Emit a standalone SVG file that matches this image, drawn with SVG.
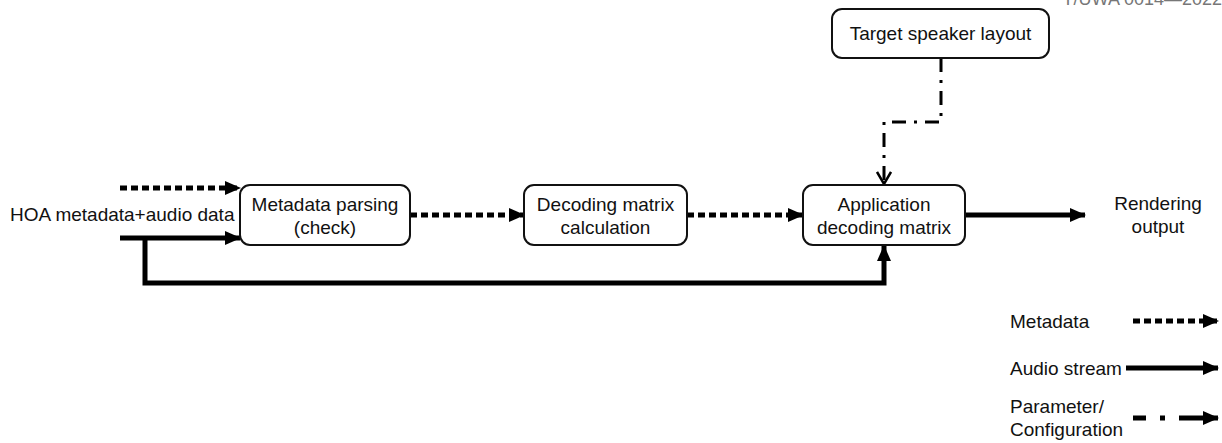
<svg xmlns="http://www.w3.org/2000/svg" width="1222" height="443" viewBox="0 0 1222 443">
<style>
text{font-family:"Liberation Sans",Arial,sans-serif;font-size:19px;fill:#111}
.box{fill:#fff;stroke:#111;stroke-width:2}
.dot{fill:none;stroke:#000;stroke-width:5;stroke-dasharray:7 4}
.sol{fill:none;stroke:#000;stroke-width:5}
.dd{fill:none;stroke:#000;stroke-width:3;stroke-dasharray:14 8 3 8}
.ddl{fill:none;stroke:#000;stroke-width:5;stroke-dasharray:13 14 5 14 80}
</style>
<defs>
<marker id="ah" markerUnits="userSpaceOnUse" markerWidth="16" markerHeight="16" refX="15" refY="8" orient="auto"><path d="M0,1 L16,8 L0,15 Z" fill="#000"/></marker>
<marker id="av" markerUnits="userSpaceOnUse" markerWidth="16" markerHeight="16" refX="14" refY="8" orient="auto"><path d="M2,1 L14,8 L2,15" fill="none" stroke="#000" stroke-width="2.5"/></marker>
</defs>
<text x="1222" y="5" text-anchor="end" style="fill:#777;font-size:18px">T/UWA 0014—2022</text>
<g id="connectors">
<path class="dot" d="M120,188 H240" marker-end="url(#ah)"/>
<path class="sol" d="M120,238 H240" marker-end="url(#ah)"/>
<path class="sol" d="M145,238 V283 H884 V246" marker-end="url(#ah)"/>
<path class="dot" d="M410,215 H524" marker-end="url(#ah)"/>
<path class="dot" d="M687,215 H803" marker-end="url(#ah)"/>
<path class="sol" d="M965,215 H1085" marker-end="url(#ah)"/>
<path class="dd" d="M941,58 V122 H884 V184" marker-end="url(#av)"/>
</g>
<g id="input-label"><text x="10" y="221">HOA metadata+audio data</text></g>
<g id="metadata-parsing">
<rect class="box" x="240" y="185" width="170" height="60" rx="10"/>
<text x="325" y="211" text-anchor="middle">Metadata parsing</text>
<text x="325" y="234" text-anchor="middle">(check)</text>
</g>
<g id="decoding-matrix-calculation">
<rect class="box" x="524" y="185" width="163" height="60" rx="10"/>
<text x="605.5" y="211" text-anchor="middle">Decoding matrix</text>
<text x="605.5" y="234" text-anchor="middle">calculation</text>
</g>
<g id="application-decoding-matrix">
<rect class="box" x="803" y="185" width="162" height="60" rx="10"/>
<text x="884" y="211" text-anchor="middle">Application</text>
<text x="884" y="234" text-anchor="middle">decoding matrix</text>
</g>
<g id="target-speaker-layout">
<rect class="box" x="832" y="9" width="217" height="49" rx="10"/>
<text x="940.5" y="40" text-anchor="middle">Target speaker layout</text>
</g>
<g id="rendering-output">
<text x="1158" y="210" text-anchor="middle">Rendering</text>
<text x="1158" y="233" text-anchor="middle">output</text>
</g>
<g id="legend">
<text x="1010" y="328">Metadata</text>
<path class="dot" d="M1133,321 H1218" marker-end="url(#ah)"/>
<text x="1010" y="375">Audio stream</text>
<path class="sol" d="M1126,368 H1218" marker-end="url(#ah)"/>
<text x="1010" y="413">Parameter/</text>
<text x="1010" y="436">Configuration</text>
<path class="ddl" d="M1133,418 H1218" marker-end="url(#ah)"/>
</g>
</svg>
